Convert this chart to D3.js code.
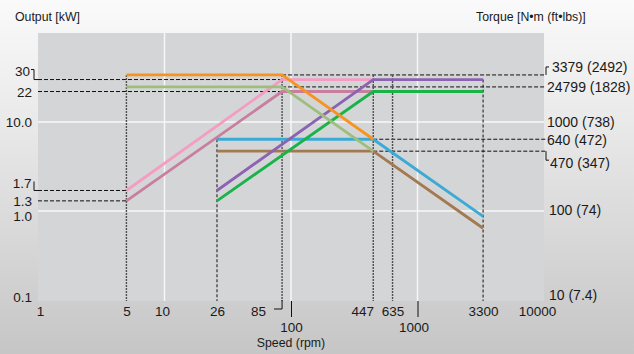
<!DOCTYPE html>
<html>
<head>
<meta charset="utf-8">
<script src="https://cdn.jsdelivr.net/npm/d3@7"></script>
<style>
  html, body { margin: 0; padding: 0; }
  body { width: 634px; height: 354px; overflow: hidden; }
  svg { display: block; font-family: "Liberation Sans", Arial, sans-serif; }
</style>
</head>
<body>
<svg id="chart" width="634" height="354"></svg>
<script>
// Axis ticks
const speedTicks = [1, 5, 10, 26, 85, 100, 447, 635, 1000, 3300, 10000];
const outputTicks = [30, 22, 10, 1.7, 1.3, 1, 0.1];
const outputLabels = ["30", "22", "10.0", "1.7", "1.3", "1.0", "0.1"];
const torqueTicks = [3379, 2479, 1000, 640, 470, 100, 10];
const torqueLabels = ["3379 (2492)", "24799 (1828)", "1000 (738)", "640 (472)", "470 (347)", "100 (74)", "10 (7.4)"];

// Output curves: [speed rpm, output kW]
const orangeCurve = [[5, 33.79], [85, 33.79], [447, 6.4]];
const oliveCurve  = [[5, 24.79], [85, 24.79], [447, 4.7]];
const pinkCurve   = [[5, 1.7], [85, 30], [447, 30]];
const mauveCurve  = [[5, 1.3], [85, 22], [447, 22]];
const purpleCurve = [[26, 1.7], [447, 30], [3300, 30]];
const greenCurve  = [[26, 1.3], [447, 22], [3300, 22]];
const blueCurve   = [[26, 6.4], [447, 6.4], [3300, 0.87]];
const brownCurve  = [[26, 4.7], [447, 4.7], [3300, 0.64]];

// Reference guides
const outputGuides = [[30, 1, 85], [22, 1, 85], [1.7, 1, 5], [1.3, 1, 5]];          // kW, from rpm, to rpm
const torqueGuides = [[3379, 85, 10000], [2479, 85, 10000], [640, 447, 10000], [470, 447, 10000]]; // N·m, from rpm, to rpm
const speedGuides  = [[5, 33.79], [26, 6.4], [85, 33.79], [447, 33.79], [635, 33.79], [3300, 30]]; // rpm, top kW

const svg = d3.select("#chart");
const W = 634, H = 354;
const plotLeft = 38, plotRight = 544, plotTop = 33, plotBottom = 300;

const x = d3.scaleLog().domain([1, 10000]).range([plotLeft, plotRight]);
const yOut = d3.scaleLog().domain([0.1, 100]).range([plotBottom, plotTop]);
const yTorque = d3.scaleLog().domain([10, 10000]).range([plotBottom, plotTop]);

// Backgrounds
const defs = svg.append("defs");
const bg = defs.append("linearGradient").attr("id", "bg").attr("x1", 0).attr("y1", 0).attr("x2", 0).attr("y2", 1);
bg.append("stop").attr("offset", "0").attr("stop-color", "#fafafa");
bg.append("stop").attr("offset", "0.35").attr("stop-color", "#e9e9e9");
bg.append("stop").attr("offset", "1").attr("stop-color", "#c6c6c6");
svg.append("rect").attr("width", W).attr("height", H).attr("fill", "url(#bg)");
svg.append("rect").attr("x", plotLeft).attr("y", plotTop).attr("width", plotRight - plotLeft).attr("height", plotBottom + 1 - plotTop)
  .attr("fill", "#d4d5d7");

// Grid
const grid = svg.append("g").attr("stroke", "#f7f7f7").attr("stroke-width", 1.5);
[10, 100, 1000].forEach(s => grid.append("line")
  .attr("x1", x(s)).attr("x2", x(s)).attr("y1", plotTop).attr("y2", plotBottom + 1));
[1, 10].forEach(v => grid.append("line")
  .attr("x1", plotLeft).attr("x2", plotRight).attr("y1", yOut(v)).attr("y2", yOut(v)));

// Guides
const guides = svg.append("g").attr("fill", "none");
outputGuides.forEach(([v, s0, s1]) => guides.append("line")
  .attr("x1", x(s0)).attr("x2", x(s1)).attr("y1", yOut(v)).attr("y2", yOut(v))
  .attr("stroke", "#111").attr("stroke-width", 1).attr("stroke-dasharray", "4,2"));
torqueGuides.forEach(([v, s0, s1]) => guides.append("line")
  .attr("x1", x(s0)).attr("x2", x(s1) + 2).attr("y1", yTorque(v)).attr("y2", yTorque(v))
  .attr("stroke", "#111").attr("stroke-width", 1).attr("stroke-dasharray", "4,2"));
speedGuides.forEach(([s, v]) => {
  const dark = (s === 26 || s === 3300);
  guides.append("line")
    .attr("x1", x(s)).attr("x2", x(s)).attr("y1", yOut(v)).attr("y2", plotBottom + 1)
    .attr("stroke", dark ? "#111" : "#505050").attr("stroke-width", dark ? 1 : 1.4)
    .attr("stroke-dasharray", dark ? "3,2" : "2,1");
});

// Brackets tying offset labels to their guides
const br = svg.append("g").attr("fill", "none").attr("stroke", "#111").attr("stroke-width", 1);
br.append("path").attr("d", `M${plotLeft - 7},${yOut(30) - 10}H${plotLeft - 4}V${yOut(30)}H${plotLeft}`);
br.append("path").attr("d", `M${plotLeft - 4},${yOut(1.7) - 9}V${yOut(1.7)}H${plotLeft}`);
br.append("path").attr("d", `M${plotRight + 2},${yTorque(3379)}V${yTorque(3379) - 8}H${plotRight + 5}`);
br.append("path").attr("d", `M${plotRight + 2},${yTorque(470)}V${yTorque(470) + 9}H${plotRight + 5}`);
br.append("path").attr("d", `M${x(85)},${plotBottom}V${plotBottom + 9}H${x(85) - 8}`);

// Curves
const line = d3.line().x(d => x(d[0])).y(d => yOut(d[1]));
const curves = [
  [mauveCurve, "#c97ea0"],
  [pinkCurve, "#f59cc3"],
  [brownCurve, "#a27a52"],
  [blueCurve, "#3aaad6"],
  [greenCurve, "#19b34a"],
  [purpleCurve, "#8c62b2"],
  [oliveCurve, "#9ebe7c"],
  [orangeCurve, "#f7931e"]
];
svg.append("g").selectAll("path").data(curves).join("path")
  .attr("d", d => line(d[0])).attr("fill", "none")
  .attr("stroke", d => d[1]).attr("stroke-width", 2.8);

// Axes
const textColor = "#1a1a1a";
const xShift = {1: 2, 10: -2.5, 85: -24, 447: -11, 1000: -4, 10000: -7};
const lowered = new Set([100, 1000]);
const xAxisG = svg.append("g").attr("transform", `translate(0,${plotBottom + 1})`)
  .call(d3.axisBottom(x).tickValues(speedTicks).tickFormat(d3.format("d")).tickSize(0));
xAxisG.select(".domain").remove();
xAxisG.selectAll(".tick text")
  .attr("fill", textColor).attr("font-size", 13.5).attr("font-family", null)
  .attr("dy", "0.35em")
  .attr("x", d => xShift[d] || 0)
  .attr("y", d => lowered.has(d) ? 26 : 10.5);
xAxisG.selectAll(".tick").filter(d => lowered.has(d)).append("line")
  .attr("y1", 0).attr("y2", 16).attr("stroke", "#111").attr("stroke-width", 1);

const outShift = {30: -9, 1.7: -7.5, 1: 5, 0.1: -3};
const yAxisL = svg.append("g").attr("transform", `translate(${plotLeft},0)`)
  .call(d3.axisLeft(yOut).tickValues(outputTicks).tickFormat((d, i) => outputLabels[i]).tickSize(0).tickPadding(6));
yAxisL.select(".domain").remove();
yAxisL.selectAll(".tick text").attr("fill", textColor).attr("font-size", 13.5).attr("font-family", null)
  .attr("dy", "0.35em").attr("y", d => outShift[d] || 0)
  .attr("x", d => d === 30 ? -8 : (d === 1.7 ? -6.5 : -6));

const torqueShiftY = {3379: -8, 470: 11, 100: -1, 10: -5};
const torqueShiftX = {3379: 8, 470: 6, 100: 5, 10: 5};
const yAxisR = svg.append("g").attr("transform", `translate(${plotRight},0)`)
  .call(d3.axisRight(yTorque).tickValues(torqueTicks).tickFormat((d, i) => torqueLabels[i]).tickSize(0).tickPadding(3));
yAxisR.select(".domain").remove();
yAxisR.selectAll(".tick text").attr("fill", textColor).attr("font-size", 14).attr("font-family", null)
  .attr("dy", "0.35em").attr("y", d => torqueShiftY[d] || 0)
  .attr("x", d => torqueShiftX[d] || 3);

// Titles
svg.append("text").attr("x", 15).attr("y", 21).attr("font-size", 12.3).attr("fill", textColor)
  .text("Output [kW]");
svg.append("text").attr("x", 476).attr("y", 21).attr("font-size", 12.3).attr("fill", textColor)
  .text("Torque [N•m (ft•lbs)]");
svg.append("text").attr("x", x(100)).attr("y", 347).attr("font-size", 12.3).attr("fill", textColor)
  .attr("text-anchor", "middle").text("Speed (rpm)");
</script>
</body>
</html>
